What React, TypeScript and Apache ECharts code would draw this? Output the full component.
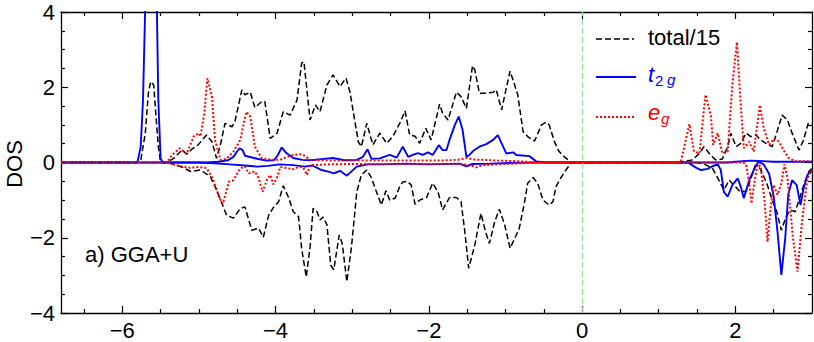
import React, { useEffect, useRef } from "react";
import * as echarts from "echarts";

const xMajorTicks = [-6, -4, -2, 0, 2];
const xMinorTicks = [-6.5, -5.5, -5, -4.5, -3.5, -3, -2.5, -1.5, -1, -0.5, 0.5, 1, 1.5, 2.5];

const totalUp = [
  [-6.8, 0], [-5.8, 0], [-5.76, 0.05], [-5.7, 0.78], [-5.66, 1.84], [-5.63, 2.15], [-5.59, 2.06], [-5.56, 1.22], [-5.53, 0.42], [-5.5, 0],
  [-5.42, 0], [-5.33, 0.11], [-5.22, 0.33], [-5.16, 0.22], [-5.09, 0.36], [-5.01, 0.47], [-4.9, 0.73], [-4.83, 0.55], [-4.77, 0.11],
  [-4.72, 0.47], [-4.66, 1.04], [-4.57, 0.95], [-4.53, 1.09], [-4.44, 1.93], [-4.4, 1.8], [-4.33, 1.87], [-4.27, 1.46], [-4.18, 1.62],
  [-4.14, 1.62], [-4.07, 0.64], [-3.98, 0.78], [-3.9, 1.35], [-3.81, 1.26], [-3.72, 1.66], [-3.66, 2.64], [-3.63, 2.68], [-3.55, 1.13],
  [-3.48, 1.53], [-3.42, 1.35], [-3.33, 2.06], [-3.25, 2.33], [-3.16, 2.02], [-3.08, 2.24], [-3.03, 1.88], [-2.92, 0.55], [-2.88, 0.42],
  [-2.81, 1.04], [-2.73, 0.47], [-2.64, 0.78], [-2.55, 0.51], [-2.47, 0.69], [-2.38, 1.04], [-2.31, 1.37], [-2.25, 0.73], [-2.18, 0.7],
  [-2.12, 0.51], [-2.04, 0.91], [-1.97, 0.6], [-1.86, 1.55], [-1.82, 1.31], [-1.75, 1.13], [-1.64, 1.87], [-1.58, 1.75], [-1.51, 1.44],
  [-1.43, 2.57], [-1.4, 2.46], [-1.34, 1.84], [-1.25, 1.84], [-1.16, 1.87], [-1.12, 1.93], [-1.05, 1.4], [-0.99, 1.97], [-0.94, 2.43],
  [-0.88, 2.06], [-0.84, 1.8], [-0.77, 0.82], [-0.71, 0.69], [-0.62, 0.57], [-0.53, 1.0], [-0.47, 1.07], [-0.43, 1.0], [-0.36, 0.55],
  [-0.3, 0.29], [-0.23, 0.15], [-0.14, 0], [1.28, 0], [1.31, 0.02], [1.44, 0.07], [1.53, 0.24], [1.59, 0.42], [1.66, 0.24], [1.74, 0.07],
  [1.83, 0.09], [1.9, 0.42], [1.94, 0.78], [2.01, 0.42], [2.07, 0.51], [2.14, 0.78], [2.2, 0.69], [2.27, 0.73], [2.33, 0.6], [2.4, 0.51],
  [2.48, 0.42], [2.55, 0.86], [2.61, 1.26], [2.68, 1.13], [2.74, 0.78], [2.83, 0.33], [2.89, 0.6], [2.95, 1.04], [3.0, 1.02],
];

const totalDown = [
  [-6.8, 0], [-5.42, 0], [-5.33, -0.05], [-5.22, -0.12], [-5.11, -0.24], [-4.98, -0.2], [-4.85, -0.38], [-4.77, -0.73], [-4.7, -1.09],
  [-4.64, -1.4], [-4.55, -1.48], [-4.46, -1.22], [-4.4, -1.18], [-4.31, -1.8], [-4.22, -1.75], [-4.16, -1.99], [-4.09, -1.4],
  [-4.03, -1.2], [-3.96, -1.04], [-3.9, -0.62], [-3.83, -0.93], [-3.77, -1.3], [-3.7, -1.44], [-3.66, -2.28], [-3.6, -3.04],
  [-3.55, -2.25], [-3.51, -1.22], [-3.46, -1.3], [-3.42, -1.53], [-3.38, -1.45], [-3.33, -1.65], [-3.28, -2.73], [-3.24, -2.85],
  [-3.17, -1.93], [-3.13, -2.15], [-3.07, -3.17], [-3.01, -2.25], [-2.94, -0.78], [-2.88, -0.33], [-2.81, -0.2], [-2.75, -0.4],
  [-2.7, -0.69], [-2.62, -1.13], [-2.56, -0.75], [-2.51, -1.0], [-2.44, -0.95], [-2.38, -0.64], [-2.34, -0.52], [-2.28, -0.5],
  [-2.23, -0.6], [-2.18, -1.11], [-2.12, -1.0], [-2.03, -0.93], [-1.95, -0.55], [-1.88, -0.78], [-1.82, -1.26], [-1.73, -0.93],
  [-1.64, -0.93], [-1.58, -1.04], [-1.53, -1.84], [-1.48, -2.81], [-1.4, -2.19], [-1.32, -1.35], [-1.26, -1.84], [-1.21, -2.15],
  [-1.14, -1.57], [-1.08, -1.24], [-1.01, -1.66], [-0.94, -2.28], [-0.88, -2.02], [-0.82, -1.75], [-0.75, -1.04], [-0.71, -0.55],
  [-0.64, -0.4], [-0.58, -0.55], [-0.51, -1.0], [-0.43, -1.13], [-0.38, -1.04], [-0.34, -0.64], [-0.27, -0.38], [-0.21, -0.2],
  [-0.14, 0], [1.5, 0], [1.6, -0.05], [1.7, -0.15], [1.78, -0.45], [1.85, -0.73], [1.92, -0.47], [1.98, -0.6], [2.05, -0.75],
  [2.14, -0.78], [2.2, -0.45], [2.26, -0.07], [2.32, -0.15], [2.41, -0.55], [2.48, -1.0], [2.54, -1.3], [2.6, -1.8], [2.66, -1.45],
  [2.72, -1.26], [2.78, -1.31], [2.83, -1.0], [2.9, -0.55], [2.96, -0.24], [3.0, -0.15],
];

const t2gUp = [
  [-6.8, 0], [-5.82, 0], [-5.8, 0.03], [-5.76, 0.42], [-5.73, 1.66], [-5.7, 4.2], [-5.66, 8.5], [-5.62, 9.5], [-5.58, 8.5], [-5.55, 4.2],
  [-5.53, 1.66], [-5.5, 0.1], [-5.47, 0], [-4.9, 0], [-4.75, 0.02], [-4.62, 0.06], [-4.55, 0.15], [-4.5, 0.3], [-4.47, 0.38],
  [-4.43, 0.33], [-4.4, 0.18], [-4.32, 0.14], [-4.24, 0.1], [-4.12, 0.05], [-4.02, 0.06], [-3.97, 0.2], [-3.92, 0.4], [-3.86, 0.25],
  [-3.77, 0.12], [-3.65, 0.07], [-3.55, 0.06], [-3.4, 0.09], [-3.25, 0.12], [-3.1, 0.06], [-2.94, 0.07], [-2.86, 0.15], [-2.8, 0.35],
  [-2.75, 0.1], [-2.64, 0.11], [-2.51, 0.2], [-2.42, 0.13], [-2.34, 0.42], [-2.27, 0.15], [-2.21, 0.2], [-2.14, 0.25], [-2.08, 0.2],
  [-2.01, 0.27], [-1.95, 0.2], [-1.87, 0.46], [-1.82, 0.33], [-1.77, 0.33], [-1.73, 0.6], [-1.66, 1.0], [-1.61, 1.22], [-1.56, 0.87],
  [-1.51, 0.15], [-1.47, 0.2], [-1.42, 0.31], [-1.34, 0.42], [-1.25, 0.49], [-1.16, 0.6], [-1.1, 0.73], [-1.05, 0.51], [-0.99, 0.24],
  [-0.9, 0.27], [-0.86, 0.2], [-0.69, 0.17], [-0.6, 0.03], [-0.47, 0], [1.9, 0], [2.0, 0.02], [2.2, 0.05], [2.3, 0.04], [2.5, 0.02],
  [3.0, 0.02],
];

const t2gDown = [
  [-6.8, 0], [-5.0, 0], [-4.8, -0.02], [-4.6, -0.05], [-4.4, -0.08], [-4.24, -0.11], [-4.1, -0.09], [-3.95, -0.05], [-3.77, -0.07],
  [-3.62, -0.11], [-3.52, -0.08], [-3.4, -0.2], [-3.3, -0.25], [-3.24, -0.29], [-3.16, -0.22], [-3.07, -0.35], [-2.94, -0.11],
  [-2.8, -0.05], [-2.6, -0.05], [-2.3, -0.03], [-2.0, -0.05], [-1.6, -0.03], [-1.51, -0.1], [-1.43, -0.04], [-1.2, -0.03],
  [-0.9, -0.01], [-0.6, 0], [1.38, 0], [1.48, -0.13], [1.55, -0.2], [1.64, -0.17], [1.7, -0.1], [1.77, -0.05], [1.81, -0.2],
  [1.85, -0.78], [1.9, -0.91], [1.96, -0.6], [2.03, -0.42], [2.07, -0.64], [2.11, -0.95], [2.18, -0.47], [2.24, -0.2], [2.3, 0.02],
  [2.37, -0.05], [2.44, -0.3], [2.5, -0.9], [2.55, -1.84], [2.6, -2.99], [2.65, -2.02], [2.69, -0.86], [2.74, -0.47], [2.8, -0.6],
  [2.85, -1.13], [2.89, -0.69], [2.94, -0.33], [3.0, -0.22],
];

const egUp = [
  [-6.8, 0], [-5.42, 0], [-5.35, 0.2], [-5.25, 0.38], [-5.16, 0.23], [-5.07, 0.69], [-5.0, 0.78], [-4.98, 0.69], [-4.93, 1.31],
  [-4.89, 2.24], [-4.83, 1.75], [-4.79, 0.6], [-4.72, 0.07], [-4.64, 0.1], [-4.55, 0.29], [-4.46, 0.6], [-4.41, 1.09], [-4.38, 1.35],
  [-4.33, 1.22], [-4.27, 0.42], [-4.18, 0.11], [-4.05, 0.07], [-3.94, 0.07], [-3.85, 0.15], [-3.77, 0.2], [-3.68, 0.22], [-3.62, 0.18],
  [-3.55, 0.07], [-3.3, 0.05], [-3.0, 0.05], [-2.5, 0.05], [-2.0, 0.05], [-1.7, 0.06], [-1.6, 0.08], [-1.5, 0.12], [-1.42, 0.08],
  [-1.3, 0.07], [-1.1, 0.05], [-0.8, 0.03], [-0.6, 0], [1.25, 0], [1.29, 0.03], [1.4, 1.02], [1.46, 0.29], [1.53, 0.24], [1.61, 1.8],
  [1.68, 1.26], [1.71, 0.47], [1.77, 0.78], [1.83, 0.24], [1.9, 0.29], [1.96, 2.06], [2.02, 3.2], [2.07, 1.53], [2.11, 0.38],
  [2.18, 0.55], [2.24, 0.29], [2.32, 1.53], [2.37, 0.91], [2.44, 0.47], [2.51, 0.64], [2.57, 0.55], [2.64, 0.29], [2.7, 0.11],
  [2.79, 0.03], [3.0, 0.03],
];

const egDown = [
  [-6.8, 0], [-5.42, 0], [-5.33, -0.05], [-5.22, -0.11], [-5.12, -0.14], [-5.0, -0.12], [-4.9, -0.15], [-4.82, -0.42], [-4.74, -0.9],
  [-4.69, -1.1], [-4.64, -0.75], [-4.61, -0.51], [-4.55, -0.47], [-4.46, -0.15], [-4.4, -0.11], [-4.35, -0.29], [-4.27, -0.24],
  [-4.22, -0.42], [-4.17, -0.78], [-4.11, -0.45], [-4.07, -0.33], [-4.03, -0.58], [-3.98, -0.4], [-3.94, -0.12], [-3.85, -0.15],
  [-3.77, -0.18], [-3.7, -0.12], [-3.64, -0.13], [-3.59, -0.33], [-3.55, -0.07], [-3.3, -0.05], [-3.0, -0.04], [-2.5, -0.04],
  [-2.0, -0.04], [-1.6, -0.04], [-1.45, -0.08], [-1.38, -0.13], [-1.3, -0.07], [-1.1, -0.05], [-0.8, -0.02], [-0.6, 0], [2.1, 0],
  [2.14, -0.05], [2.18, -0.55], [2.21, -1.09], [2.25, -0.5], [2.29, -0.05], [2.33, -0.1], [2.38, -1.0], [2.42, -2.11], [2.46, -1.2],
  [2.5, -0.6], [2.55, -0.86], [2.6, -0.55], [2.64, -0.05], [2.68, -0.4], [2.75, -1.98], [2.81, -2.9], [2.87, -1.57], [2.94, -0.42],
  [3.0, -0.2],
];

const FONT = "'Liberation Sans', Arial, Helvetica, sans-serif";
const minus = (v: number) => String(v).replace("-", "\u2212");

export default function App() {
  const ref = useRef<HTMLDivElement>(null);
  useEffect(() => {
    document.body.style.margin = "0";
    if (!ref.current) return;
    const chart = echarts.init(ref.current, undefined, { renderer: "svg" });
    const black = "#000";
    const baseX = {
      type: "value", min: -6.8, max: 3, gridIndex: 0, splitLine: { show: false },
    };
    const baseY = {
      type: "value", min: -4, max: 4, interval: 2, gridIndex: 0, splitLine: { show: false },
    };
    const lineSeries = (data: number[][], color: string, width: number, type: any, z: number) => ({
      type: "line", data, xAxisIndex: 0, yAxisIndex: 0, symbol: "none", showSymbol: false, silent: true,
      lineStyle: { color, width, type }, z, clip: true,
    });
    const totalUpSeries: any = lineSeries(totalUp, black, 1.5, [6, 3], 3);
    totalUpSeries.markLine = {
      silent: true, symbol: ["none", "none"], label: { show: false },
      lineStyle: { color: "#98dc98", type: [6, 3], width: 1.4 },
      data: [{ xAxis: 0 }],
    };
    const tickStyle = { color: black, width: 1.2 };
    chart.setOption({
      animation: false,
      grid: { left: 61, right: 2, top: 12, bottom: 29, containLabel: false },
      xAxis: [
        {
          ...baseX, position: "bottom",
          axisLine: { show: true, onZero: false, lineStyle: { color: black, width: 1.3 } },
          axisTick: { show: true, inside: true, length: 7, customValues: xMajorTicks, lineStyle: tickStyle },
          axisLabel: { show: true, customValues: xMajorTicks, formatter: minus, color: black, fontSize: 22, fontFamily: FONT, margin: 6 },
        },
        {
          ...baseX, position: "bottom",
          axisLine: { show: false, onZero: false },
          axisTick: { show: true, inside: true, length: 4, customValues: xMinorTicks, lineStyle: tickStyle },
          axisLabel: { show: false },
        },
        {
          ...baseX, position: "top",
          axisLine: { show: true, onZero: false, lineStyle: { color: black, width: 1.3 } },
          axisTick: { show: true, inside: true, length: 7, customValues: xMajorTicks, lineStyle: tickStyle },
          axisLabel: { show: false },
        },
        {
          ...baseX, position: "top",
          axisLine: { show: false, onZero: false },
          axisTick: { show: true, inside: true, length: 4, customValues: xMinorTicks, lineStyle: tickStyle },
          axisLabel: { show: false },
        },
      ],
      yAxis: [
        {
          ...baseY, position: "left",
          axisLine: { show: true, onZero: false, lineStyle: { color: black, width: 1.3 } },
          axisTick: { show: true, inside: true, length: 7, lineStyle: tickStyle },
          minorTick: { show: true, splitNumber: 4, length: 4, lineStyle: tickStyle },
          axisLabel: { show: true, formatter: minus, color: black, fontSize: 22, fontFamily: FONT, margin: 6 },
        },
        {
          ...baseY, position: "right",
          axisLine: { show: true, onZero: false, lineStyle: { color: black, width: 1.3 } },
          axisTick: { show: true, inside: true, length: 7, lineStyle: tickStyle },
          minorTick: { show: true, splitNumber: 4, length: 4, lineStyle: tickStyle },
          axisLabel: { show: false },
        },
      ],
      series: [
        totalUpSeries,
        lineSeries(totalDown, black, 1.5, [6, 3], 3),
        lineSeries(t2gUp, "#0000ff", 1.9, "solid", 4),
        lineSeries(t2gDown, "#0000ff", 1.9, "solid", 4),
        lineSeries(egUp, "#ff0000", 2, [2, 2], 5),
        lineSeries(egDown, "#ff0000", 2, [2, 2], 5),
      ],
      graphic: [
        { type: "text", x: 14, y: 164, rotation: Math.PI / 2,
          style: { text: "DOS", fontSize: 22, fontFamily: FONT, fill: black, align: "center", verticalAlign: "middle", textAlign: "center", textVerticalAlign: "middle" } },
        { type: "text", x: 85, y: 254, style: { text: "a) GGA+U", fontSize: 22, fontFamily: FONT, fill: black, align: "left", verticalAlign: "middle", textAlign: "left", textVerticalAlign: "middle" } },
        { type: "line", shape: { x1: 596, y1: 39, x2: 634, y2: 39 }, style: { stroke: black, lineWidth: 1.5, lineDash: [6, 3] } },
        { type: "text", x: 648, y: 37.5, style: { text: "total/15", fontSize: 22, fontFamily: FONT, fill: black, align: "left", verticalAlign: "middle", textAlign: "left", textVerticalAlign: "middle" } },
        { type: "line", shape: { x1: 596, y1: 77, x2: 636, y2: 77 }, style: { stroke: "#0000ff", lineWidth: 1.9 } },
        { type: "text", x: 648, y: 74.5, style: { text: "t", fontSize: 22, fontStyle: "italic", fontFamily: FONT, fill: "#0000ff", align: "left", verticalAlign: "middle", textAlign: "left", textVerticalAlign: "middle" } },
        { type: "text", x: 655, y: 80, style: { text: "2", fontSize: 15, fontFamily: FONT, fill: "#0000ff", align: "left", verticalAlign: "middle", textAlign: "left", textVerticalAlign: "middle" } },
        { type: "text", x: 667, y: 79.5, style: { text: "g", fontSize: 15, fontStyle: "italic", fontFamily: FONT, fill: "#0000ff", align: "left", verticalAlign: "middle", textAlign: "left", textVerticalAlign: "middle" } },
        { type: "line", shape: { x1: 596, y1: 117, x2: 634, y2: 117 }, style: { stroke: "#ff0000", lineWidth: 2, lineDash: [2, 2] } },
        { type: "text", x: 648, y: 112.5, style: { text: "e", fontSize: 22, fontStyle: "italic", fontFamily: FONT, fill: "#ff0000", align: "left", verticalAlign: "middle", textAlign: "left", textVerticalAlign: "middle" } },
        { type: "text", x: 661, y: 118, style: { text: "g", fontSize: 15, fontStyle: "italic", fontFamily: FONT, fill: "#ff0000", align: "left", verticalAlign: "middle", textAlign: "left", textVerticalAlign: "middle" } },
      ],
    });
    return () => chart.dispose();
  }, []);
  return <div ref={ref} style={{ width: 814, height: 342 }} />;
}
